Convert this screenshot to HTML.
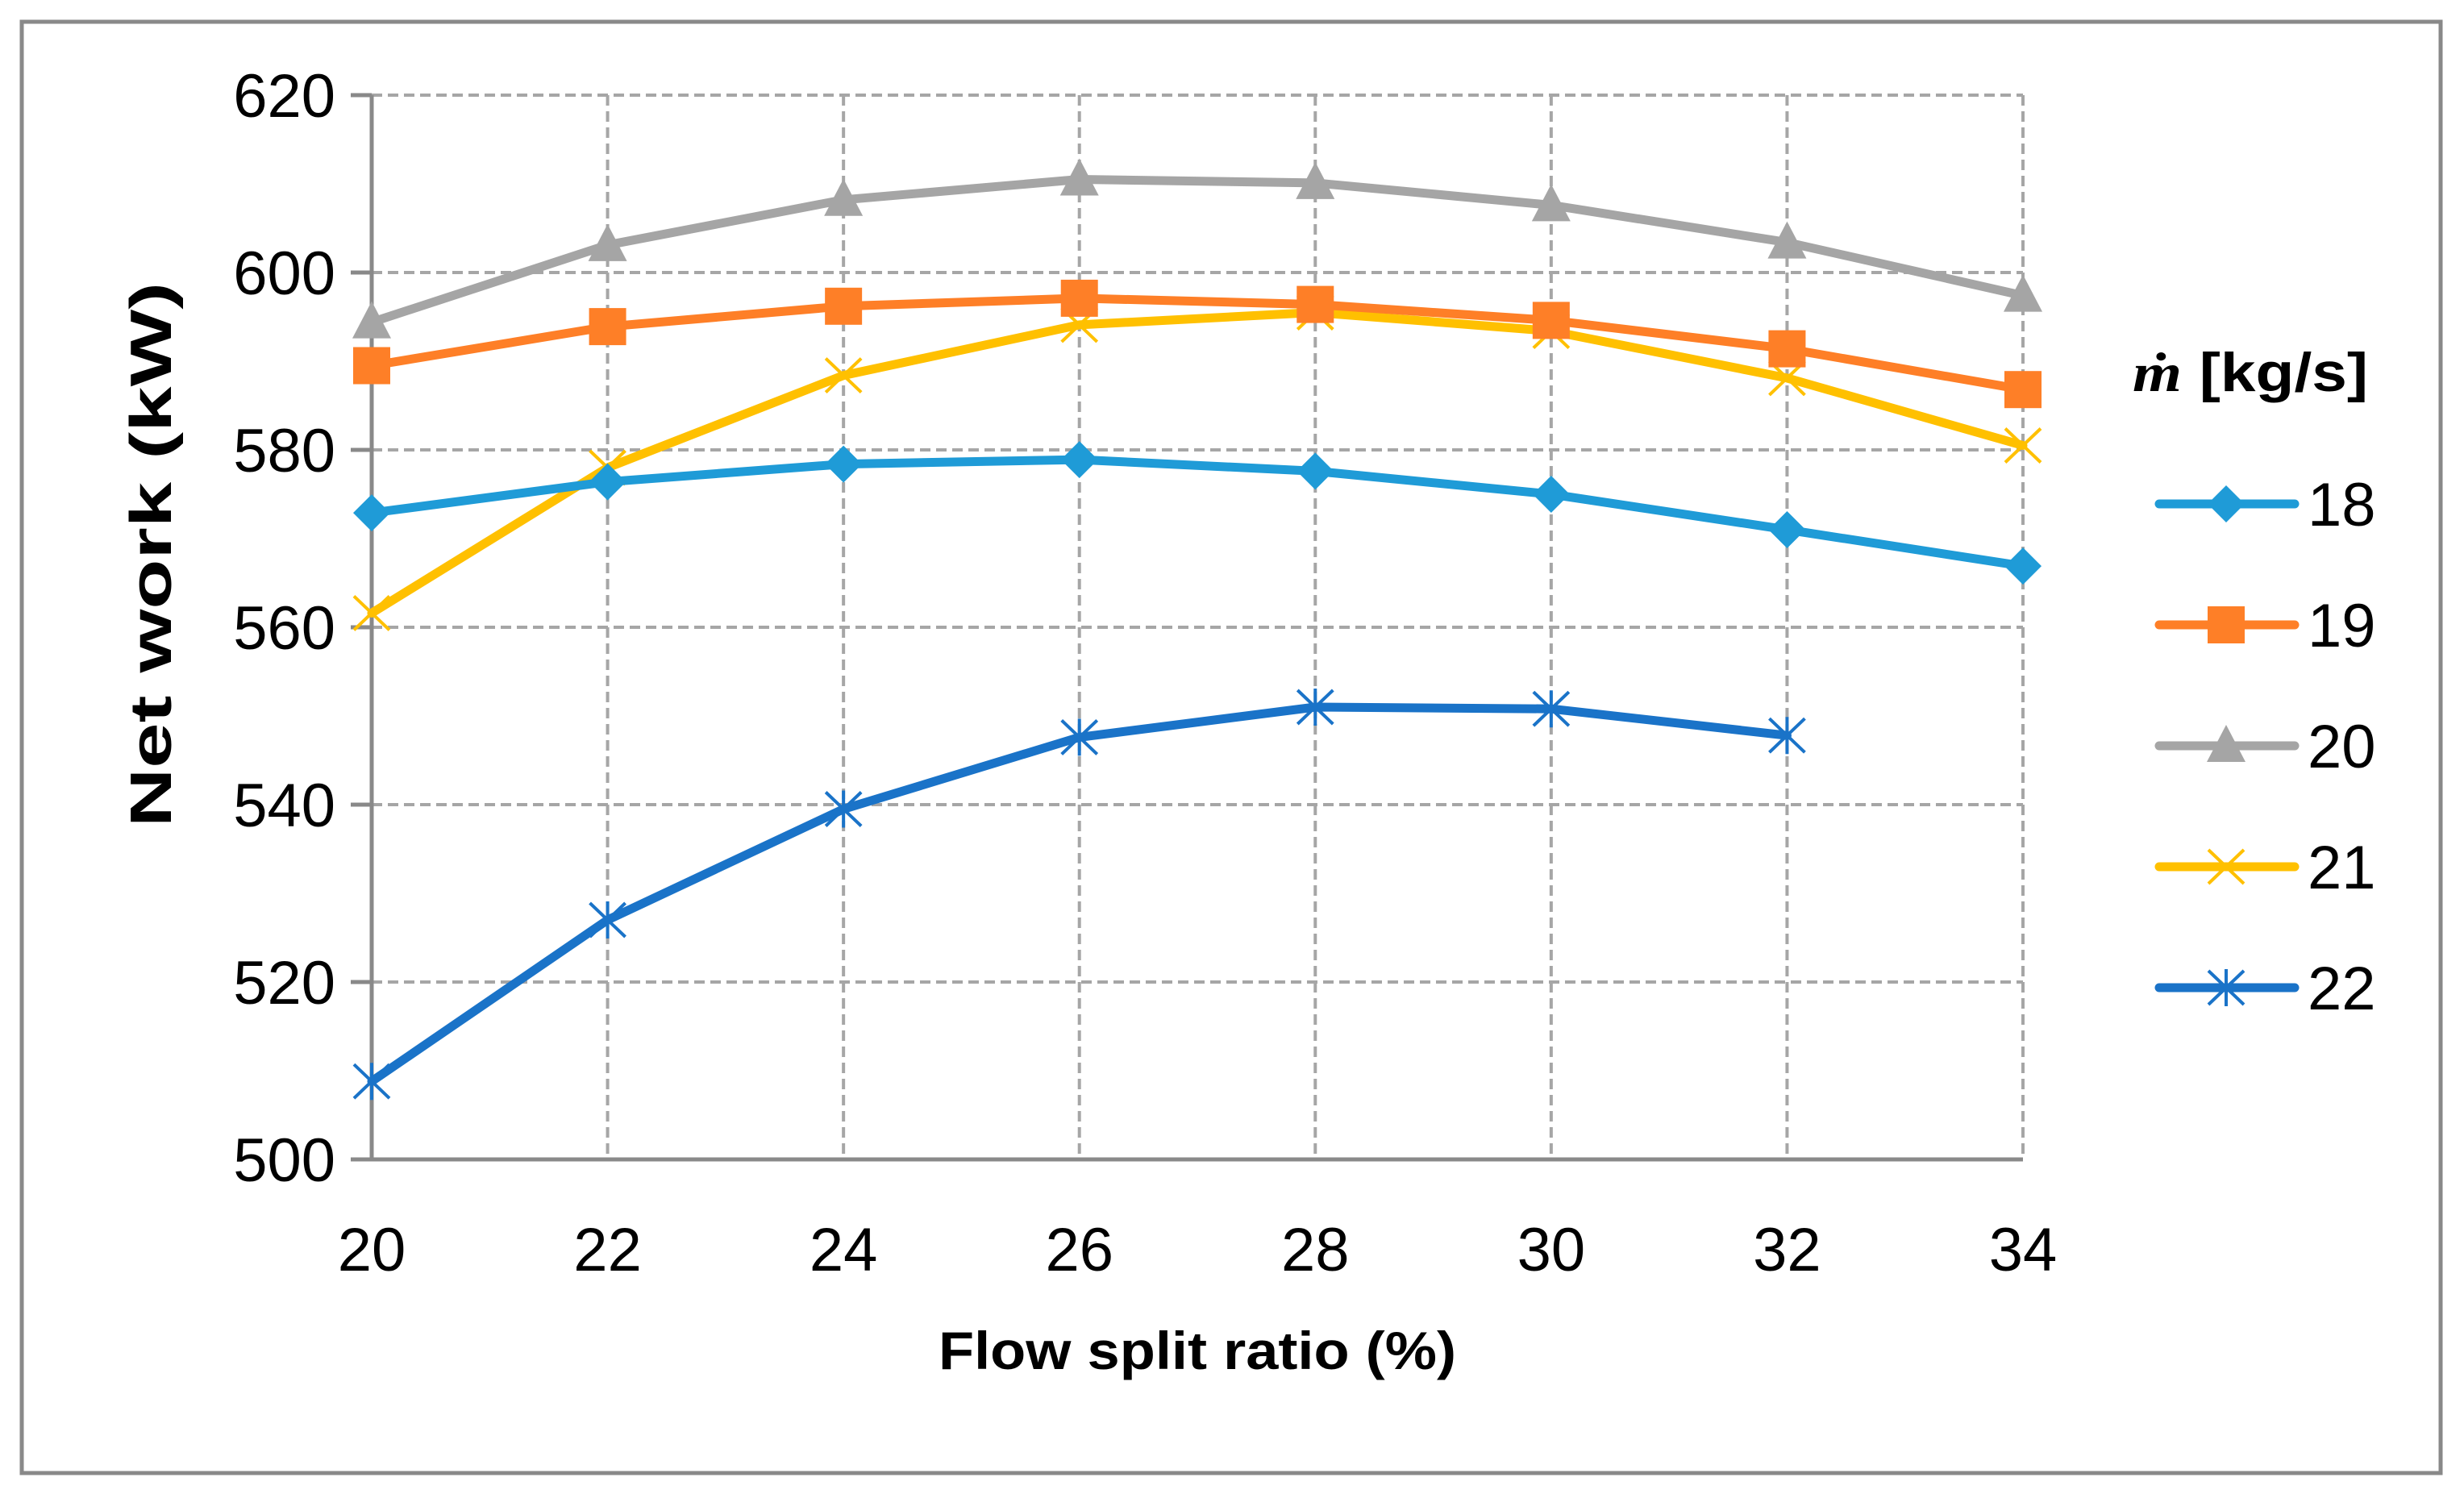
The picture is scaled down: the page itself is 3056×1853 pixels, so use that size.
<!DOCTYPE html>
<html><head><meta charset="utf-8"><style>
html,body{margin:0;padding:0;background:#fff}
svg{display:block}
text{font-family:"Liberation Sans",sans-serif}
</style></head><body>
<svg id="chart" width="3056" height="1853" viewBox="0 0 3056 1853" xmlns="http://www.w3.org/2000/svg">
<rect x="27" y="27" width="3000" height="1800" fill="#fff" stroke="#898989" stroke-width="5"/>
<g id="grid"></g>
<g id="axes"></g>
<g id="series"></g>
<text transform="translate(212,688) rotate(-90)" text-anchor="middle" font-weight="bold" font-size="72" textLength="676" lengthAdjust="spacingAndGlyphs">Net work (kW)</text>
<text x="1485" y="1698" text-anchor="middle" font-weight="bold" font-size="66" textLength="642" lengthAdjust="spacingAndGlyphs">Flow split ratio (%)</text>
<g id="legend">
<text x="2645" y="485" font-weight="bold" font-size="68" textLength="292" lengthAdjust="spacingAndGlyphs"><tspan font-family="Liberation Serif, serif" font-style="italic">ṁ</tspan> [kg/s]</text>
</g>
</svg>
<script>
const xCategories = [20, 22, 24, 26, 28, 30, 32, 34];
const yTicks = [500, 520, 540, 560, 580, 600, 620];
const seriesNames = ["18", "19", "20", "21", "22"];
const s18 = [572.9, 576.4, 578.4, 578.9, 577.6, 575.0, 571.0, 566.9];
const s19 = [589.5, 593.9, 596.2, 597.1, 596.4, 594.6, 591.4, 586.8];
const s20 = [594.4, 603.1, 608.2, 610.5, 610.1, 607.6, 603.4, 597.4];
const s21 = [561.6, 578.0, 588.4, 594.1, 595.5, 593.4, 588.1, 580.5];
const s22 = [508.8, 527.0, 539.5, 547.6, 551.0, 550.8, 547.8];

const NS = "http://www.w3.org/2000/svg";
const X0 = 461, X1 = 2509, Y0 = 1438, Y1 = 118;
function xs(v){ return X0 + (v - 20) / (34 - 20) * (X1 - X0); }
function ys(v){ return Y0 - (v - 500) / (620 - 500) * (Y0 - Y1); }
function mk(tag, attrs, parent){
  const e = document.createElementNS(NS, tag);
  for (const k in attrs) e.setAttribute(k, attrs[k]);
  parent.appendChild(e); return e;
}
const grid = document.getElementById('grid');
const axes = document.getElementById('axes');
const ser = document.getElementById('series');
const leg = document.getElementById('legend');

yTicks.forEach(t => {
  if (t !== 500) {
    const g = mk('line', {x1:X0, x2:X1, y1:ys(t), y2:ys(t), stroke:'#a6a6a6', 'stroke-width':4, 'stroke-dasharray':'13,7'}, grid);
    
    
  }
  const tk = mk('line', {x1:X0-26, x2:X0, y1:ys(t), y2:ys(t), stroke:'#898989', 'stroke-width':5}, axes);
  
  
  const tl = mk('text', {x:X0-45, y:ys(t)+27, 'text-anchor':'end', 'font-size':76}, axes);
  tl.textContent = t;
  
  
});
xCategories.forEach(c => {
  if (c !== 20) {
    const g = mk('line', {x1:xs(c), x2:xs(c), y1:Y1, y2:Y0, stroke:'#a6a6a6', 'stroke-width':4, 'stroke-dasharray':'13,7'}, grid);
    
    
  }
  const tl = mk('text', {x:xs(c), y:1576, 'text-anchor':'middle', 'font-size':76}, axes);
  tl.textContent = c;
  
  
});
const ya = mk('line', {x1:X0, x2:X0, y1:Y1, y2:Y0, stroke:'#898989', 'stroke-width':5}, axes);


const xa = mk('line', {x1:X0, x2:X1, y1:Y0, y2:Y0, stroke:'#898989', 'stroke-width':5}, axes);



function marker(type, cx, cy, color, parent){
  let e;
  if (type === 'diamond') e = mk('polygon', {points:`${cx},${cy-23} ${cx+23},${cy} ${cx},${cy+23} ${cx-23},${cy}`, fill:color}, parent);
  else if (type === 'square') e = mk('rect', {x:cx-23, y:cy-23, width:46, height:46, fill:color}, parent);
  else if (type === 'triangle') e = mk('polygon', {points:`${cx},${cy-26} ${cx+24},${cy+20} ${cx-24},${cy+20}`, fill:color}, parent);
  else if (type === 'x') e = mk('path', {d:`M${cx-22},${cy-21}L${cx+22},${cy+21}M${cx-22},${cy+21}L${cx+22},${cy-21}`, stroke:color, 'stroke-width':4, fill:'none'}, parent);
  else e = mk('path', {d:`M${cx-22},${cy-21}L${cx+22},${cy+21}M${cx-22},${cy+21}L${cx+22},${cy-21}M${cx},${cy-23}L${cx},${cy+23}`, stroke:color, 'stroke-width':4, fill:'none'}, parent);
  return e;
}
const allSeries = [s18, s19, s20, s21, s22];
const colors = ['#1f9bd7', '#fe7f27', '#a5a5a5', '#ffc000', '#1a73c8'];
const markers = ['diamond', 'square', 'triangle', 'x', 'star'];
const drawOrder = [4, 3, 0, 1, 2];
drawOrder.forEach(i => {
  const vals = allSeries[i];
  const g = mk('g', {}, ser);
  
  
  const pts = vals.map((v, j) => xs(xCategories[j]) + ',' + ys(v)).join(' ');
  const pl = mk('polyline', {points:pts, fill:'none', stroke:colors[i], 'stroke-width':11, 'stroke-linejoin':'round', 'stroke-linecap':'round'}, g);
  
  
  vals.forEach((v, j) => {
    const m = marker(markers[i], xs(xCategories[j]), ys(v), colors[i], g);
    
    
  });
});
seriesNames.forEach((n, i) => {
  const y = 625 + i * 150;
  const g = mk('g', {}, leg);
  
  
  mk('line', {x1:2678, x2:2846, y1:y, y2:y, stroke:colors[i], 'stroke-width':11, 'stroke-linecap':'round'}, g);
  marker(markers[i], 2761, y, colors[i], g);
  const t = mk('text', {x:2862, y:y+27, 'font-size':76}, g);
  t.textContent = n;
});
</script>
</body></html>
